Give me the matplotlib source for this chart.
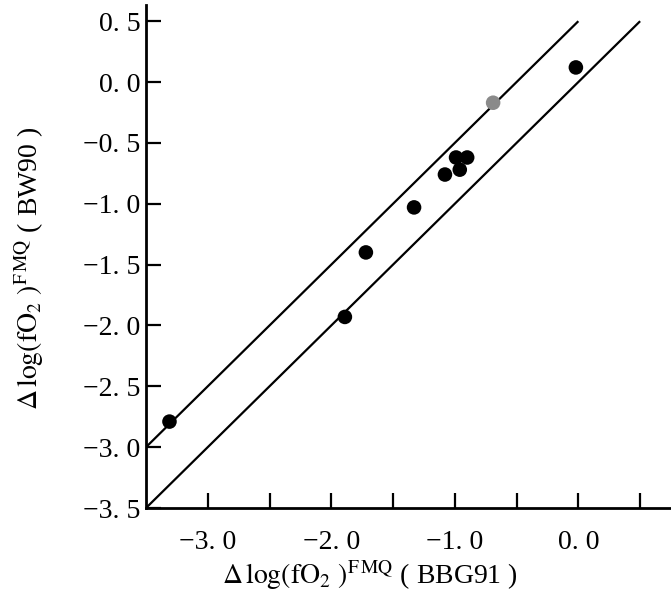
import matplotlib
matplotlib.use("Agg")
import matplotlib.pyplot as plt
import numpy as np

# Data
bbg91 = [-3.31, -1.89, -1.72, -1.33, -1.08, -0.99, -0.90, -0.96, -0.02]
bw90 = [-2.79, -1.93, -1.40, -1.03, -0.76, -0.62, -0.62, -0.72, 0.12]
grey_x = [-0.69]
grey_y = [-0.17]

# Reference lines: y = x + offset
line1_x = [-3.5, 0.0]
line1_offset = 0.5
line2_x = [-3.5, 0.5]
line2_offset = 0.0

xticks = [-3.0, -2.5, -2.0, -1.5, -1.0, -0.5, 0.0, 0.5]
xticklabels = ["−3. 0", "", "−2. 0", "", "−1. 0", "", "0. 0", ""]
yticks = [0.5, 0.0, -0.5, -1.0, -1.5, -2.0, -2.5, -3.0, -3.5]
yticklabels = ["0. 5", "0. 0", "−0. 5", "−1. 0", "−1. 5", "−2. 0", "−2. 5", "−3. 0", "−3. 5"]

plt.rcParams['font.family'] = ['Liberation Serif', 'DejaVu Serif']
plt.rcParams['mathtext.fontset'] = 'stix'

fig = plt.figure(figsize=(6.71, 5.91), dpi=100)
ax = fig.add_axes([146/671, 83/591, 1 - 146/671, 503/591])

for xs, off in [(line1_x, line1_offset), (line2_x, line2_offset)]:
    xs = np.array(xs)
    ax.plot(xs, xs + off, color='black', lw=1.6, solid_capstyle='butt')

ax.scatter(bbg91, bw90, s=110, color='black', zorder=3, edgecolors='none')
ax.scatter(grey_x, grey_y, s=110, color='#8a8a8a', zorder=3, edgecolors='none')

ax.set_xlim(-3.5, 0.75)
ax.set_ylim(-3.5, 0.633)
ax.spines['top'].set_visible(False)
ax.spines['right'].set_visible(False)
for s in ['left', 'bottom']:
    ax.spines[s].set_linewidth(2.0)

ax.set_xticks(xticks)
ax.set_xticklabels(xticklabels)
ax.set_yticks(yticks)
ax.set_yticklabels(yticklabels)
ax.tick_params(axis='both', direction='in', length=11, width=1.6, labelsize=20)
ax.tick_params(axis='x', pad=16)
ax.tick_params(axis='y', pad=4)

ax.set_xlabel(r"$\Delta\,\mathrm{log(fO_2\ )^{F\,MQ}}$ ( BBG91 )", fontsize=20)
ax.set_ylabel(r"$\Delta\,\mathrm{log(fO_2\ )^{F\,MQ}}$ ( BW90 )", fontsize=20)
ax.xaxis.set_label_coords(0.427, -0.1)
ax.yaxis.set_label_coords(-0.19, 0.477)

fig.savefig("out.png", dpi=100)
